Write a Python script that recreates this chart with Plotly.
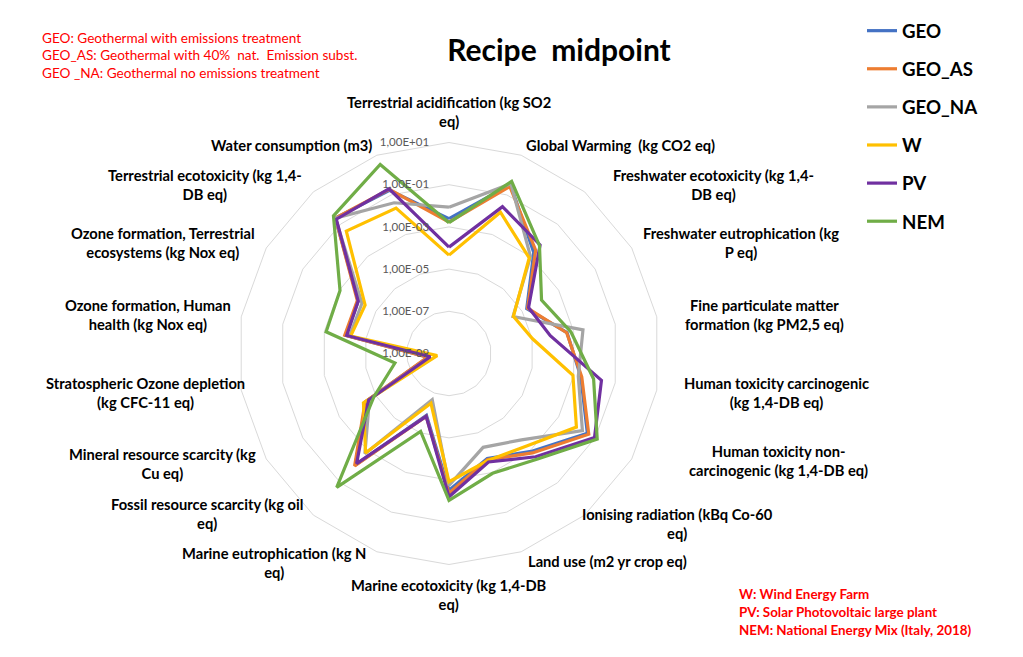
import plotly.graph_objects as go

categories = [
    "Terrestrial acidification (kg SO2<br>eq)",
    "Global Warming  (kg CO2 eq)",
    "Freshwater ecotoxicity (kg 1,4-<br>DB eq)",
    "Freshwater eutrophication (kg<br>P eq)",
    "Fine particulate matter<br>formation (kg PM2,5 eq)",
    "Human toxicity carcinogenic<br>(kg 1,4-DB eq)",
    "Human toxicity non-<br>carcinogenic (kg 1,4-DB eq)",
    "Ionising radiation (kBq Co-60<br>eq)",
    "Land use (m2 yr crop eq)",
    "Marine ecotoxicity (kg 1,4-DB<br>eq)",
    "Marine eutrophication (kg N<br>eq)",
    "Fossil resource scarcity (kg oil<br>eq)",
    "Mineral resource scarcity (kg<br>Cu eq)",
    "Stratospheric Ozone depletion<br>(kg CFC-11 eq)",
    "Ozone formation, Human<br>health (kg Nox eq)",
    "Ozone formation, Terrestrial<br>ecosystems (kg Nox eq)",
    "Terrestrial ecotoxicity (kg 1,4-<br>DB eq)",
    "Water consumption (m3)",
]

GEO = [2.45e-3, 0.33, 1.77e-3, 1.8e-5, 4.8e-4, 2.2e-3, 0.0373, 1.14e-3, 2.0e-4,
       3.05e-3, 1.33e-6, 8.1e-3, 3.5e-5, 9.9e-9, 9.3e-5, 9.3e-5, 0.238, 0.172]
GEO_AS = [1.67e-3, 0.265, 2.45e-3, 2.0e-5, 4.6e-4, 2.45e-3, 0.0445, 1.42e-3, 2.25e-4,
          4.2e-3, 1.48e-6, 9.1e-3, 3.9e-5, 1.1e-8, 1.04e-4, 1.04e-4, 0.238, 0.19]
GEO_NA = [8.6e-3, 0.37, 1.02e-3, 3.2e-6, 2.8e-3, 1.67e-3, 0.020, 2.2e-4, 5.4e-5,
          1.77e-3, 2.1e-7, 1.58e-3, 2.26e-5, 7.9e-9, 6.0e-5, 5.8e-5, 0.238, 0.040]
W = [4.6e-5, 0.0134, 8.2e-4, 3.35e-6, 1.05e-5, 9.2e-4, 9.4e-3, 5.3e-4, 2.5e-4,
     1.2e-3, 3.2e-7, 1.42e-3, 4.8e-5, 3.7e-9, 5.4e-5, 3.9e-5, 0.0373, 0.0217]
PV = [1.1e-4, 0.0255, 5.2e-3, 2.26e-5, 7.5e-5, 0.0217, 0.092, 2.45e-3, 2.96e-4,
      6.2e-3, 1.48e-6, 6.5e-3, 2.5e-5, 7.9e-9, 8.4e-5, 9.3e-5, 0.204, 0.202]
NEM = [1.58e-3, 0.48, 4.7e-3, 1.16e-4, 7.4e-4, 9.1e-3, 0.129, 3.4e-3, 1.1e-3,
       9.1e-3, 8.5e-6, 0.19, 1.3e-5, 4.0e-7, 8.2e-4, 9.2e-4, 0.33, 3.4]

series_names = ["GEO", "GEO_AS", "GEO_NA", "W", "PV", "NEM"]
series_values = [GEO, GEO_AS, GEO_NA, W, PV, NEM]

tick_vals = [1e-9, 1e-7, 1e-5, 1e-3, 1e-1, 1e1]
tick_text = ["1,00E-09", "1,00E-07", "1,00E-05", "1,00E-03", "1,00E-01", "1,00E+01"]

notes_top = [
    "GEO: Geothermal with emissions treatment",
    "GEO_AS: Geothermal with 40%  nat.  Emission subst.",
    "GEO _NA: Geothermal no emissions treatment",
]
notes_bottom = [
    "W: Wind Energy Farm",
    "PV: Solar Photovoltaic large plant",
    "NEM: National Energy Mix (Italy, 2018)",
]

# ---- styling / layout (kept separate from data) ----
series_colors = ["#4472C4", "#ED7D31", "#A5A5A5", "#FFC000", "#7030A0", "#70AD47"]
W_PX, H_PX = 1023, 657
cx, cy, R = 449, 353.5, 211
# centre of each category label block, in pixels (Excel-style placement)
label_px = [(449, 111.5), (620, 145), (713, 184.5), (741, 242.5), (764, 315),
            (776, 392), (778, 460), (677, 523), (607, 561), (449, 594.5),
            (274, 562), (207, 513.5), (162, 463.5), (145, 392), (148, 315),
            (163, 242.5), (205, 184), (291, 145)]
tick_pad = "\u00a0" * 6  # gap between tick label and the radial axis

fig = go.Figure()
for name, vals, col in zip(series_names, series_values, series_colors):
    fig.add_trace(go.Scatterpolar(
        r=vals + vals[:1],
        theta=categories + categories[:1],
        mode="lines",
        name=name,
        legendgroup=name,
        line=dict(color=col, width=3.2),
    ))

fig.update_layout(
    width=W_PX, height=H_PX,
    margin=dict(l=0, r=0, t=0, b=0),
    paper_bgcolor="white",
    font=dict(family="Lato", color="black"),
    title=dict(text="<b>Recipe  midpoint</b>", x=559 / W_PX, xanchor="center",
               y=1 - 50 / H_PX, yanchor="middle", font=dict(size=30, color="black")),
    showlegend=True,
    legend=dict(x=862 / W_PX, y=1 - 12 / H_PX, xanchor="left", yanchor="top",
                font=dict(size=18.7, color="black", family="Lato", weight="bold"),
                tracegroupgap=10.8, bgcolor="rgba(0,0,0,0)", itemwidth=30),
    polar=dict(
        domain=dict(x=[(cx - R) / W_PX, (cx + R) / W_PX],
                    y=[1 - (cy + R) / H_PX, 1 - (cy - R) / H_PX]),
        bgcolor="white",
        gridshape="linear",
        radialaxis=dict(type="log", range=[-9, 1], tickvals=tick_vals,
                        ticktext=[t + tick_pad for t in tick_text],
                        angle=90, side="counterclockwise", tickangle=90,
                        showline=False, ticks="", layer="above traces",
                        gridcolor="#D9D9D9", gridwidth=1,
                        tickfont=dict(size=11.5, color="#595959", family="Lato")),
        angularaxis=dict(direction="clockwise", rotation=90, showgrid=False,
                         showline=True, linecolor="#D9D9D9", linewidth=1, ticks="",
                         showticklabels=False, layer="below traces"),
    ),
)

for cat, (lx, ly) in zip(categories, label_px):
    fig.add_annotation(text="<b>" + cat + "</b>", xref="paper", yref="paper",
                       x=lx / W_PX, y=1 - ly / H_PX, xanchor="center", yanchor="middle",
                       align="center", showarrow=False,
                       font=dict(size=14.7, color="black", family="Lato"))

for i, t in enumerate(notes_top):
    fig.add_annotation(text=t, xref="paper", yref="paper", x=40 / W_PX, y=1 - (38 + 17.5 * i) / H_PX,
                       xanchor="left", yanchor="middle", showarrow=False,
                       font=dict(size=13.6, color="#FF0000", family="Lato"))
for i, t in enumerate(notes_bottom):
    fig.add_annotation(text="<b>" + t + "</b>", xref="paper", yref="paper", x=737 / W_PX,
                       y=1 - (594 + 18 * i) / H_PX,
                       xanchor="left", yanchor="middle", showarrow=False,
                       font=dict(size=13.4, color="#FF0000", family="Lato"))

fig.write_html("out.html", config={"displayModeBar": False},
               post_script="document.body.style.margin='0';")
